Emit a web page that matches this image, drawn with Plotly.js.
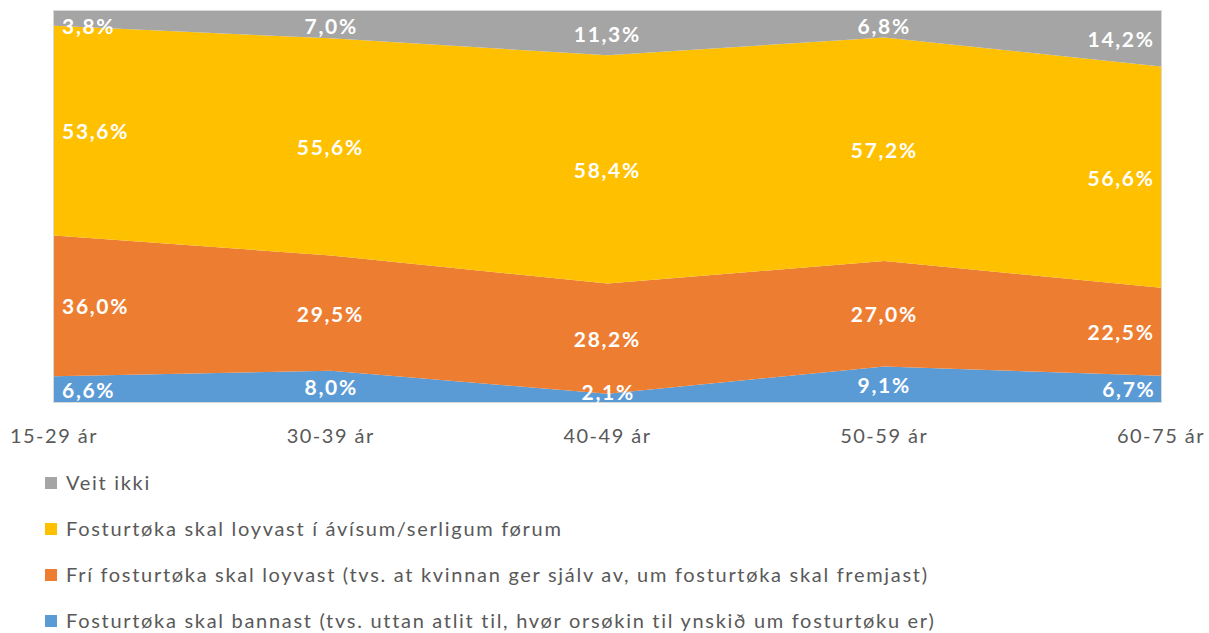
<!DOCTYPE html>
<html>
<head>
<meta charset="utf-8">
<script src="https://cdn.plot.ly/plotly-3.0.1.min.js"></script>
<style>
html,body{margin:0;padding:0;background:#fff;}
#chart{width:1209px;height:633px;}
#chart .annotation-text{letter-spacing:1.7px;}
#chart .xtick text{letter-spacing:1.5px;}
</style>
</head>
<body>
<div id="chart"></div>
<script>
// ---- data ----
var categories = ["15-29 ár", "30-39 ár", "40-49 ár", "50-59 ár", "60-75 ár"];
var seriesNames = [
  "Fosturtøka skal bannast (tvs. uttan atlit til, hvør orsøkin til ynskið um fosturtøku er)",
  "Frí fosturtøka skal loyvast (tvs. at kvinnan ger sjálv av, um fosturtøka skal fremjast)",
  "Fosturtøka skal loyvast í ávísum/serligum førum",
  "Veit ikki"
];
var bannast = [6.6, 8.0, 2.1, 9.1, 6.7];
var fri = [36.0, 29.5, 28.2, 27.0, 22.5];
var avisum = [53.6, 55.6, 58.4, 57.2, 56.6];
var veitIkki = [3.8, 7.0, 11.3, 6.8, 14.2];
var seriesValues = [bannast, fri, avisum, veitIkki];
var colors = ["#5B9BD5", "#ED7D31", "#FFC000", "#A5A5A5"];

// ---- layout constants (pixels) ----
var W = 1209, H = 633;
var plotL = 54, plotR = 1161, plotT = 11, plotB = 402;
var pw = plotR - plotL, ph = plotB - plotT;
function px2paperX(px){ return (px - plotL) / pw; }
function px2paperY(py){ return (plotB - py) / ph; }

var traces = seriesValues.map(function(vals, i){
  return {
    type: "scatter", mode: "lines", x: categories, y: vals,
    name: seriesNames[i], stackgroup: "one", groupnorm: "percent",
    line: {width: 0, color: colors[i]}, fillcolor: colors[i],
    hoverinfo: "skip", showlegend: false
  };
});

// data labels (positioned at segment middle, via data coordinates)
var annotations = [];
var n = categories.length;
for (var j = 0; j < n; j++) {
  var total = 0; for (var s = 0; s < seriesValues.length; s++) total += seriesValues[s][j];
  var cum = 0;
  for (var s = 0; s < seriesValues.length; s++) {
    var v = seriesValues[s][j] / total * 100;
    var mid = cum + v / 2;
    cum += v;
    mid = Math.min(Math.max(mid, 2.6), 96.2);
    var anchor = j === 0 ? "left" : (j === n - 1 ? "right" : "center");
    annotations.push({
      x: j, y: mid, xref: "x", yref: "y",
      text: seriesValues[s][j].toFixed(1).replace(".", ",") + "%",
      showarrow: false, xanchor: anchor, yanchor: "middle", align: anchor,
      xshift: j === 0 ? 6 : (j === n - 1 ? -4 : 0),
      font: {family: "Lato, 'Open Sans', sans-serif", size: 21, color: "#ffffff", weight: "bold"}
    });
  }
}

// manual legend
var shapes = [];
var legendRowsY = [483, 529, 575, 621];
for (var k = 0; k < 4; k++) {
  var si = 3 - k;
  var cy = legendRowsY[k];
  shapes.push({
    type: "rect", xref: "paper", yref: "paper",
    x0: px2paperX(45), x1: px2paperX(57), y0: px2paperY(cy + 6), y1: px2paperY(cy - 6),
    fillcolor: colors[si], line: {width: 0}
  });
  annotations.push({
    xref: "paper", yref: "paper", x: px2paperX(64), y: px2paperY(cy - 1),
    text: seriesNames[si], showarrow: false, xanchor: "left", yanchor: "middle", align: "left",
    font: {family: "Lato, 'Open Sans', sans-serif", size: 20, color: "#595959"}
  });
}

var layout = {
  width: W, height: H,
  margin: {l: plotL, r: W - plotR, t: plotT, b: H - plotB, pad: 0},
  paper_bgcolor: "#ffffff", plot_bgcolor: "#ffffff",
  showlegend: false,
  xaxis: {
    type: "category", range: [0, n - 1], showgrid: false, zeroline: false,
    showline: true, mirror: true, linecolor: "#D9D9D9", linewidth: 1,
    ticks: "", ticklabelstandoff: 16,
    tickfont: {family: "Lato, 'Open Sans', sans-serif", size: 20, color: "#595959"}
  },
  yaxis: {
    range: [0, 100], showgrid: false, zeroline: false, showticklabels: false,
    showline: true, mirror: true, linecolor: "#D9D9D9", linewidth: 1, ticks: ""
  },
  annotations: annotations,
  shapes: shapes
};

Plotly.newPlot("chart", traces, layout, {displayModeBar: false, staticPlot: true});
</script>
</body>
</html>
